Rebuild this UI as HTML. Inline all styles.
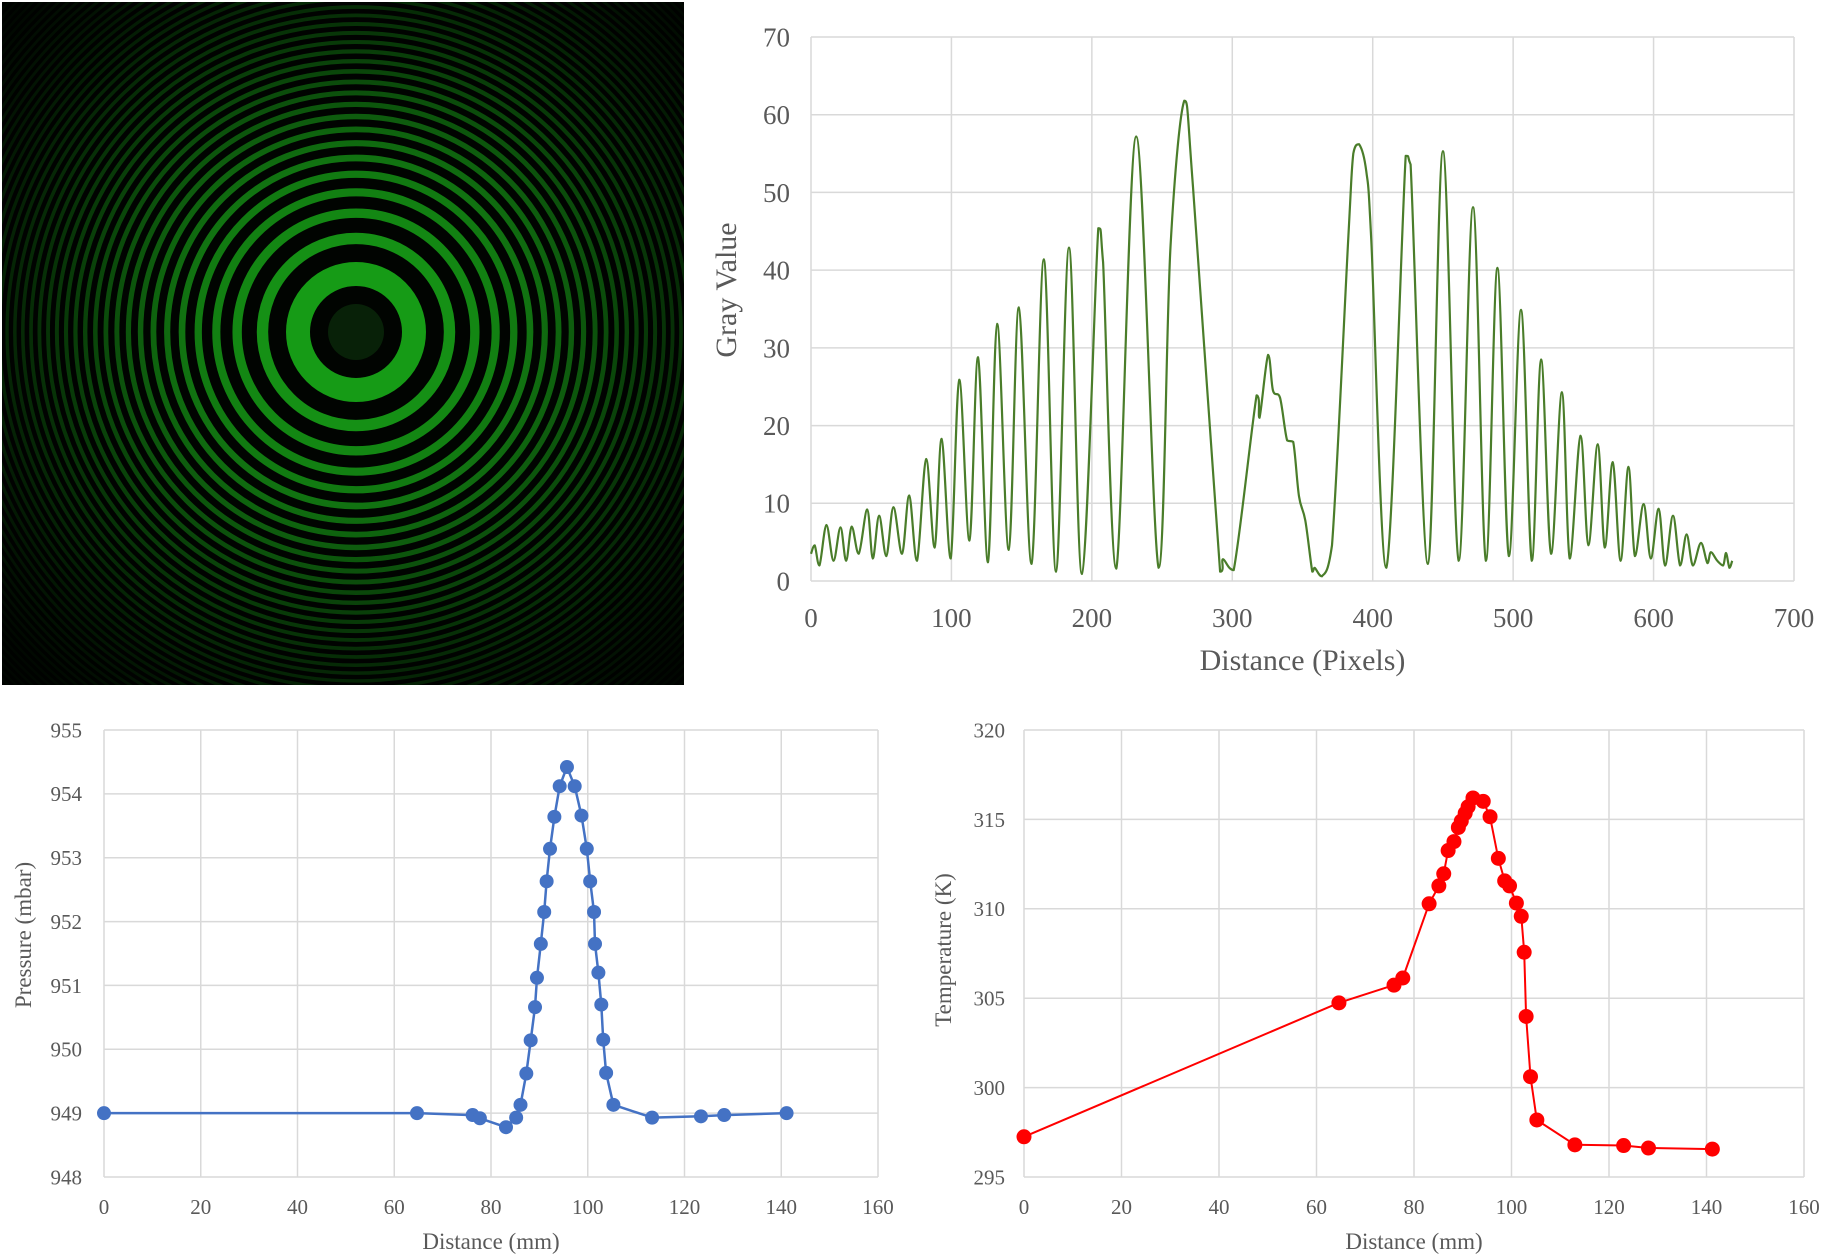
<!DOCTYPE html>
<html><head><meta charset="utf-8"><style>
html,body{margin:0;padding:0;background:#fff;width:1825px;height:1259px;overflow:hidden}
svg{display:block}
text{font-family:"Liberation Serif",serif;fill:#595959}
</style></head><body>
<svg id="root" width="1825" height="1259" viewBox="0 0 1825 1259">
<g id="img"></g>
<g id="c1"></g>
<g id="c2"></g>
<g id="c3"></g>
</svg>
<script>
// ---- Gray value profile data ----
const grayX=[0,2.6,6,11,16,21,25,29,34,40,44,48.5,53.6,58.7,64.8,69.9,75.5,82,88,93,99.5,105.6,112.8,118.9,126,132.6,140.8,148,157,165.8,174.5,183.7,192.9,204.6,208,217.4,231.6,247.5,256,265.8,272,291.3,293.4,301,317.3,319.4,325.5,329,334,339,343.4,347.5,352,357,358.7,363.8,371,382.7,386.2,390.3,395.4,399,409.7,423.5,427,439.3,450,461.2,471.4,480.6,488.8,497,505.6,513.3,519.9,527,534.7,540.3,548,553.6,560.2,565.3,570.9,576.5,582.1,586.7,592.9,598,603.6,608.2,613.8,618.9,623.5,628,633.7,638.3,640.8,645.4,649.5,651.6,654,656];
const grayY=[3.5,4.6,2,7.2,2.6,6.9,2.6,7,3.5,9.2,2.9,8.4,3.2,9.5,3.5,11,2.6,15.7,4.3,18.3,2.9,25.9,5.2,28.8,2.4,33.1,4,35.2,2.2,41.4,1.2,42.9,0.9,45.4,41,1.6,57.2,1.7,43,61.8,50.7,1.2,2.8,1.4,23.9,21,29.1,24.5,23.6,18.1,17.9,10.9,7.8,1.2,1.7,0.6,4.6,44.4,55,56.2,52.7,43.8,1.7,54.7,53.6,2.2,55.3,2.6,48.1,2.6,40.3,3.2,34.9,2.6,28.5,3.5,24.3,2.9,18.7,4.6,17.6,4.3,15.3,2.6,14.7,3.2,9.9,2.9,9.3,2,8.4,2,6,2,4.9,2.3,3.7,2.6,2,3.6,1.7,2.6];
const grayXTicks=[0,100,200,300,400,500,600,700];
const grayYTicks=[0,10,20,30,40,50,60,70];
// ---- Pressure data ----
const presX=[0,64.7,76.2,77.7,83.1,85.2,86.1,87.3,88.2,89.1,89.5,90.3,91.0,91.5,92.2,93.1,94.2,95.7,97.3,98.7,99.8,100.5,101.3,101.5,102.2,102.8,103.2,103.8,105.3,113.3,123.4,128.2,141.1];
const presY=[949,949,948.97,948.92,948.78,948.93,949.13,949.62,950.14,950.66,951.12,951.65,952.15,952.63,953.14,953.64,954.12,954.42,954.12,953.66,953.14,952.63,952.15,951.65,951.2,950.7,950.15,949.63,949.13,948.93,948.95,948.97,949.0];
const presXTicks=[0,20,40,60,80,100,120,140,160];
const presYTicks=[948,949,950,951,952,953,954,955];
// ---- Temperature data ----
const tempX=[0,64.6,75.9,77.7,83.1,85.1,86.1,87.0,88.2,89.1,89.7,90.5,91.1,92.1,94.2,95.6,97.3,98.6,99.6,101.0,102.0,102.6,103.0,103.9,105.2,113.0,123.0,128.1,141.2];
const tempY=[297.25,304.74,305.73,306.13,310.28,311.28,311.96,313.26,313.76,314.55,314.91,315.35,315.71,316.2,316.01,315.15,312.82,311.56,311.28,310.32,309.58,307.57,303.98,300.61,298.19,296.8,296.76,296.62,296.56];
const tempXTicks=[0,20,40,60,80,100,120,140,160];
const tempYTicks=[295,300,305,310,315,320];

const NS="http://www.w3.org/2000/svg";
function mk(parent,tag,attrs){const e=document.createElementNS(NS,tag);for(const k in attrs)e.setAttribute(k,attrs[k]);parent.appendChild(e);return e;}

// ---- Ring image ----
(function(){
 const root=document.getElementById('root');
 const defs=mk(root,'defs',{});
 const cx=356,cy=332;
 const rg=mk(defs,'radialGradient',{id:'vig',gradientUnits:'userSpaceOnUse',cx:cx,cy:cy,r:560});
 mk(rg,'stop',{offset:'0.3','stop-color':'#000','stop-opacity':0});
 mk(rg,'stop',{offset:'1','stop-color':'#000','stop-opacity':0.8});
 const clip=mk(defs,'clipPath',{id:'imgclip'});mk(clip,'rect',{x:2,y:2,width:682,height:683});
 const g=document.getElementById('img');
 g.setAttribute('clip-path','url(#imgclip)');
 const bg=mk(g,'rect',{x:0,y:0,width:686,height:686,fill:'#010401'});
 
 
 const disc=mk(g,'circle',{cx:cx,cy:cy,r:28,fill:'#0b2e0b',opacity:0.7});
 
 
 for(let n=0;n<60;n++){
  const r=58*Math.sqrt(1+1.6*n);
  const rn=58*Math.sqrt(1+1.6*(n+1));
  const w=(rn-r)*0.45*(n==0?1.5:1);
  const b=Math.max(0.1,1-r/520);
  const c=mk(g,'circle',{cx:cx,cy:cy,r:r,fill:'none',stroke:'rgb('+Math.round(25*b)+','+Math.round(175*b)+','+Math.round(25*b)+')','stroke-width':w});
  
  
 }
 const vg=mk(g,'rect',{x:0,y:0,width:686,height:686,fill:'url(#vig)'});
 
 
})();

function clampv(v,a,b){const lo=Math.min(a,b),hi=Math.max(a,b);return Math.max(lo,Math.min(hi,v));}
function smoothPath(P){
 let d='M'+P[0][0].toFixed(1)+','+P[0][1].toFixed(1);
 for(let i=0;i<P.length-1;i++){
  const p0=P[i-1]||P[i],p1=P[i],p2=P[i+1],p3=P[i+2]||p2,t=0.17;
  const c1=[p1[0]+(p2[0]-p0[0])*t,clampv(p1[1]+(p2[1]-p0[1])*t,p1[1],p2[1])];
  const c2=[p2[0]-(p3[0]-p1[0])*t,clampv(p2[1]-(p3[1]-p1[1])*t,p1[1],p2[1])];
  d+=' C'+c1[0].toFixed(1)+','+c1[1].toFixed(1)+' '+c2[0].toFixed(1)+','+c2[1].toFixed(1)+' '+p2[0].toFixed(1)+','+p2[1].toFixed(1);
 }
 return d;
}

function chart(cfg){
 const g=document.getElementById(cfg.id);
 const sx=v=>cfg.L+(v-cfg.x0)/(cfg.x1-cfg.x0)*(cfg.R-cfg.L);
 const sy=v=>cfg.B-(v-cfg.y0)/(cfg.y1-cfg.y0)*(cfg.B-cfg.T);
 cfg.xt.forEach(t=>{
  const l=mk(g,'line',{x1:sx(t),x2:sx(t),y1:cfg.T,y2:cfg.B,stroke:'#d9d9d9','stroke-width':1.5});
  
  
  const tx=mk(g,'text',{x:sx(t),y:cfg.xly,'text-anchor':'middle','font-size':cfg.fs});tx.textContent=t;
  
  
 });
 cfg.yt.forEach(t=>{
  const l=mk(g,'line',{x1:cfg.L,x2:cfg.R,y1:sy(t),y2:sy(t),stroke:'#d9d9d9','stroke-width':1.5});
  
  
  const tx=mk(g,'text',{x:cfg.ylx,y:sy(t)+cfg.fs*0.35,'text-anchor':'end','font-size':cfg.fs});tx.textContent=t;
  
  
 });
 const xt=mk(g,'text',{x:(cfg.L+cfg.R)/2,y:cfg.xty,'text-anchor':'middle','font-size':cfg.tfs});xt.textContent=cfg.xtitle;
 
 
 const yt=mk(g,'text',{x:0,y:0,'text-anchor':'middle','font-size':cfg.tfs,transform:'translate('+cfg.ytx+','+cfg.yty+') rotate(-90)'});yt.textContent=cfg.ytitle;
 
 
 const P=cfg.X.map((x,i)=>[sx(x),sy(cfg.Y[i])]);
 let line;
 if(cfg.smooth){
  line=mk(g,'path',{d:smoothPath(P),fill:'none',stroke:cfg.color,'stroke-width':cfg.lw,'stroke-linejoin':'round'});
 } else {
  line=mk(g,'polyline',{points:P.map(p=>p[0].toFixed(1)+','+p[1].toFixed(1)).join(' '),fill:'none',stroke:cfg.color,'stroke-width':cfg.lw,'stroke-linejoin':'round'});
 }
 
 
 if(cfg.mr){cfg.X.forEach((x,i)=>{
  const c=mk(g,'circle',{cx:sx(x),cy:sy(cfg.Y[i]),r:cfg.mr,fill:cfg.color});
  
  
 });}
}
chart({id:'c1',L:811,R:1794,T:37,B:581,x0:0,x1:700,y0:0,y1:70,xt:grayXTicks,yt:grayYTicks,X:grayX,Y:grayY,color:'#4a7d2a',lw:2.2,mr:0,smooth:true,fs:27,tfs:30,xly:627,ylx:790,xty:670,ytx:736,yty:290,xtitle:'Distance (Pixels)',ytitle:'Gray Value'});
chart({id:'c2',L:104,R:878,T:730,B:1177,x0:0,x1:160,y0:948,y1:955,xt:presXTicks,yt:presYTicks,X:presX,Y:presY,color:'#4472c4',lw:2.5,mr:7,fs:21,tfs:23,xly:1214,ylx:82,xty:1249,ytx:31,yty:935,xtitle:'Distance (mm)',ytitle:'Pressure (mbar)'});
chart({id:'c3',L:1024,R:1804,T:730,B:1177,x0:0,x1:160,y0:295,y1:320,xt:tempXTicks,yt:tempYTicks,X:tempX,Y:tempY,color:'#ff0000',lw:2,mr:7.5,fs:21,tfs:23,xly:1214,ylx:1005,xty:1249,ytx:951,yty:950,xtitle:'Distance (mm)',ytitle:'Temperature (K)'});
</script>
</body></html>
